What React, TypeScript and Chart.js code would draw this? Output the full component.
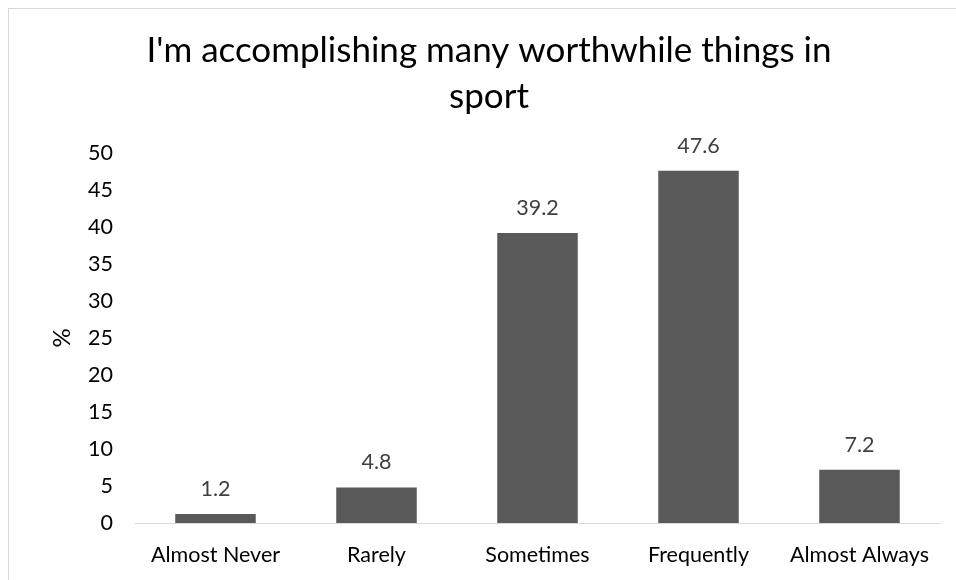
import React, { useEffect, useRef } from "react";
import { Chart, registerables } from "chart.js";

Chart.register(...registerables);

const categories = ["Almost Never", "Rarely", "Sometimes", "Frequently", "Almost Always"];
const values = [1.2, 4.8, 39.2, 47.6, 7.2];
const titleLines = ["I'm accomplishing many worthwhile things in", "sport"];
const yAxisTitle = "%";

const FONT = "Lato, 'Open Sans', sans-serif";

const titlePlugin = {
  id: "customTitle",
  afterDraw(chart: any) {
    const ctx = chart.ctx;
    ctx.save();
    ctx.fillStyle = "#000000";
    ctx.font = `35px ${FONT}`;
    ctx.textAlign = "center";
    ctx.textBaseline = "middle";
    const cx = chart.width / 2;
    ctx.fillText(titleLines[0], cx, 42);
    ctx.fillText(titleLines[1], cx, 88);
    ctx.restore();
  },
};

const labelPlugin = {
  id: "valueLabels",
  afterDatasetsDraw(chart: any) {
    const ctx = chart.ctx;
    const meta = chart.getDatasetMeta(0);
    ctx.save();
    ctx.fillStyle = "#404040";
    ctx.font = `21.5px ${FONT}`;
    ctx.textAlign = "center";
    ctx.textBaseline = "middle";
    meta.data.forEach((bar: any, i: number) => {
      ctx.fillText(String(values[i]), bar.x, bar.y - 25);
    });
    ctx.restore();
  },
};

export default function App() {
  const ref = useRef<HTMLCanvasElement>(null);
  useEffect(() => {
    document.documentElement.style.overflow = "hidden";
    document.body.style.overflow = "hidden";
    const chart = new Chart(ref.current!, {
      type: "bar",
      data: {
        labels: categories,
        datasets: [
          {
            data: values,
            backgroundColor: "#595959",
            barPercentage: 0.5,
            categoryPercentage: 1,
          },
        ],
      },
      options: {
        animation: false,
        responsive: false,
        devicePixelRatio: 1,
        layout: { padding: { top: 144, right: 29, left: 0, bottom: 0 } },
        plugins: { legend: { display: false }, tooltip: { enabled: false }, title: { display: false } },
        scales: {
          x: {
            grid: { display: false, drawTicks: false },
            border: { color: "#d9d9d9", width: 1 },
            ticks: { color: "#000000", font: { family: FONT, size: 21.5 }, padding: 19, maxRotation: 0 },
            afterFit: (s: any) => { s.height = 57; },
          },
          y: {
            min: 0,
            max: 50,
            grid: { display: false, drawTicks: false },
            border: { display: false },
            ticks: { stepSize: 5, color: "#000000", font: { family: FONT, size: 21.5 }, padding: 22 },
            title: {
              display: true,
              text: yAxisTitle,
              color: "#000000",
              font: { family: FONT, size: 24 },
              padding: { top: 39, bottom: 0 },
            },
            afterFit: (s: any) => { s.width = 126; },
          },
        },
      },
      plugins: [titlePlugin, labelPlugin],
    });
    return () => chart.destroy();
  }, []);
  return (
    <div
      style={{
        position: "absolute",
        left: 8,
        top: 8,
        width: 960,
        height: 580,
        borderLeft: "1px solid #d9d9d9",
        borderTop: "1px solid #d9d9d9",
        overflow: "hidden",
      }}
    >
      <canvas ref={ref} width={960} height={571} style={{ display: "block" }} />
    </div>
  );
}
